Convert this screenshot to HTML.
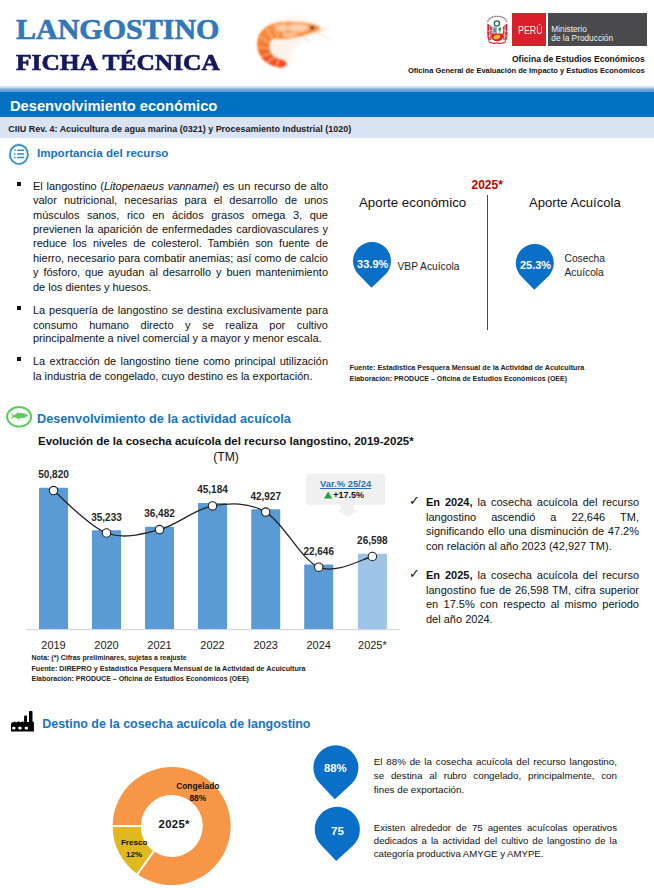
<!DOCTYPE html>
<html><head><meta charset="utf-8">
<style>
html,body{margin:0;padding:0;background:#fff;}
body{width:654px;height:888px;position:relative;overflow:hidden;font-family:"Liberation Sans",sans-serif;color:#000;}
.abs{position:absolute;white-space:nowrap;}
.t1{left:16px;top:12px;font-family:"Liberation Serif",serif;font-weight:bold;font-size:30px;color:#3277ba;-webkit-text-stroke:0.7px #3277ba;transform-origin:0 0;transform:scaleX(1.0);}
.t2{left:16px;top:49px;font-family:"Liberation Serif",serif;font-weight:bold;font-size:24px;color:#15195c;-webkit-text-stroke:0.7px #15195c;transform-origin:0 0;transform:scaleX(1.06);}
.bar0{left:0;top:86px;width:654px;height:6px;background:linear-gradient(#d6e3f4 0%,#c3d7ef 30%,#79a8dc 50%,#5f98d6 100%);}
.bar1{left:0;top:91.6px;width:654px;height:25.6px;background:#0070c0;}
.bar1t{left:10px;top:98px;font-size:14.7px;font-weight:bold;color:#fff;}
.bar2{left:0;top:117.2px;width:654px;height:21.3px;background:#dae3f3;}
.bar2t{left:8.3px;top:123.6px;font-size:8.97px;font-weight:bold;color:#1a1a1a;}
.h{font-weight:bold;color:#1673c4;font-size:12.8px;}
.ln{position:absolute;white-space:nowrap;font-size:11px;line-height:14px;height:14px;color:#111;text-align:justify;text-align-last:justify;}
.ln.l{text-align-last:left;}
.small{font-size:7.3px;font-weight:bold;color:#222;}
.bul{position:absolute;width:4px;height:4px;background:#111;}
.lbl{font-size:10px;font-weight:bold;color:#262626;transform:translateX(-50%);}
.yr{font-size:11px;color:#1a1a1a;transform:translateX(-50%);}
</style></head><body>
<div class="abs t1" style="left:0px;top:0px;left:16px;top:12px">LANGOSTINO</div>
<div class="abs t2" style="left:0px;top:0px;left:16px;top:49px">FICHA TÉCNICA</div>
<svg class="abs" style="left:245px;top:5px" width="100" height="75" viewBox="245 5 100 75"><defs><linearGradient id="sg" x1="0" y1="0" x2="0" y2="1"><stop offset="0" stop-color="#f89a50"/><stop offset="0.5" stop-color="#f57c2e"/><stop offset="1" stop-color="#f0421a"/></linearGradient><filter id="sb" x="-20%" y="-20%" width="140%" height="140%"><feGaussianBlur stdDeviation="0.8"/></filter><filter id="sb2" x="-20%" y="-20%" width="140%" height="140%"><feGaussianBlur stdDeviation="2.5"/></filter><filter id="sb3" x="-30%" y="-30%" width="160%" height="160%"><feGaussianBlur stdDeviation="1.3"/></filter></defs>
<path d="M262 30 C280 10 310 16 325 30 C300 40 285 50 292 66 C270 72 253 55 262 30Z" fill="#fdf2ea" filter="url(#sb2)"/>
<g filter="url(#sb)"><path d="M319.5 26.5 C312 23 300 21.8 286 21.8 C274 21.8 264 26 259.5 34 C256 41 256.5 50 261 57 C265 63 273 67 281 67.5 C285.5 67.5 287.5 64.5 285.5 61.5 C283 59 278 59.5 274.5 57 C270 53.5 268 47 270 42 C272 37.5 277 38.5 283 39 C292 39 300 36.5 306 34.5 C311 33 316 31.5 319.5 30 Z" fill="url(#sg)"/>
<g filter="url(#sb3)" fill="#fde0c6" opacity="0.8"><ellipse cx="298" cy="28" rx="11" ry="4.2"/><ellipse cx="282" cy="28" rx="6" ry="3.5"/><ellipse cx="290" cy="35" rx="8" ry="2"/></g>
<g stroke="#fbcfa6" stroke-width="1.2" fill="none" opacity="0.75"><path d="M284 22 L285 38"/><path d="M275 23.5 L278 37"/><path d="M266.5 28 L272.5 39"/><path d="M260 37 L269 43"/><path d="M258 47.5 L268.5 48.5"/><path d="M260.5 56.5 L270.5 53.5"/><path d="M267 62.5 L274.5 57.5"/><path d="M276 66 L279 59.5"/></g>
<g stroke="#f9b377" stroke-width="0.8" fill="none" opacity="0.8"><path d="M318 29 C322 29.5 326 29.5 329 28.5"/><path d="M314 32 C320 33 326 36 329 41"/><path d="M303 36 C306 39 308 41 310 42"/></g>
<ellipse cx="312.3" cy="27.8" rx="2.1" ry="1.7" fill="#3d1c14"/></g></svg>

<svg class="abs" style="left:484px;top:12px" width="27" height="35" viewBox="484 12 27 35"><defs><filter id="lb" x="-10%" y="-10%" width="120%" height="120%"><feGaussianBlur stdDeviation="0.35"/></filter></defs><g filter="url(#lb)">
<path d="M487.6 21.6 C489.5 17.6 493 16.3 497.2 16.3 C501.5 16.3 505 17.6 507 21.6" fill="none" stroke="#6a6a6a" stroke-width="1.3" stroke-dasharray="1.1 0.5"/>
<path d="M487.3 23.2 L491.8 27 L491.4 39.5 L488.6 41 L487.3 37 Z" fill="#d8232d"/>
<path d="M507.3 23.2 L502.8 27 L503.2 39.5 L506 41 L507.3 37 Z" fill="#d8232d"/>
<path d="M489.6 26 L489.9 39.5 M505 26 L504.7 39.5" stroke="#fff" stroke-width="0.7"/>
<path d="M487.6 36.5 L491.5 34.5 M487.6 31.5 L491.5 30 M507 36.5 L503.1 34.5 M507 31.5 L503.1 30" stroke="#fff" stroke-width="0.6"/>
<circle cx="496.9" cy="23.4" r="2.6" fill="#fff" stroke="#1d6a3a" stroke-width="1.3"/>
<rect x="492.2" y="26.6" width="5" height="7" fill="#8db3d6"/><rect x="497.2" y="26.6" width="5" height="7" fill="#fff"/>
<path d="M498.5 27.5h2.6v3.2h-0.9v2h-0.8v-2h-0.9z" fill="#2e9a45"/><rect x="493.6" y="28.6" width="2.4" height="3.4" fill="#8c7a6a"/>
<path d="M491.4 33.6 H503 V37 C503 39.5 500 41 497.2 41.4 C494.4 41 491.4 39.5 491.4 37 Z" fill="#d8232d"/>
<ellipse cx="496.8" cy="37" rx="3.6" ry="2" fill="#e9b92c" transform="rotate(-18 496.8 37)"/>
<path d="M488.5 40.8 C492 43.2 495 43.3 497.2 42.2 C499.4 43.3 502.4 43.2 506 40.8 L505.4 42.6 C502 44.4 499.5 44.3 497.2 43.5 C494.9 44.3 492.4 44.4 489 42.6 Z" fill="#d8232d"/>
</g></svg>

<div class="abs" style="left:512.4px;top:13px;width:33.6px;height:33.2px;background:#da1f2b;"></div>
<div class="abs" style="left:547.8px;top:13px;width:99.2px;height:33.2px;background:#4a4a4c;"></div>
<div class="abs " style="left:518px;top:24.5px;font-size:10.4px;color:#fff;transform-origin:0 0;transform:scaleX(0.85);">PERÚ</div>
<div class="abs" style="left:551.3px;top:25px;font-size:8.3px;line-height:8.6px;color:#f2f2f2;white-space:pre;">Ministerio
de la Producción</div>
<div class="abs" style="right:9.3px;top:54px;font-size:8.54px;font-weight:bold;color:#111;">Oficina de Estudios Económicos</div>
<div class="abs" style="right:9.3px;top:66px;font-size:7.53px;font-weight:bold;color:#111;">Oficina General de Evaluación de Impacto y Estudios Económicos</div>
<div class="abs bar0"></div><div class="abs bar1"></div><div class="abs bar1t">Desenvolvimiento económico</div><div class="abs bar2"></div>
<div class="abs bar2t">CIIU Rev. 4: Acuicultura de agua marina (0321) y Procesamiento Industrial (1020)</div>
<svg class="abs" style="left:7px;top:142px" width="24" height="25" viewBox="7 142 24 25"><ellipse cx="18.9" cy="154.4" rx="8.9" ry="9.6" fill="#fff" stroke="#2a8cd2" stroke-width="1.7"/><ellipse cx="18.9" cy="154.4" rx="10.1" ry="10.8" fill="none" stroke="#2a8cd2" stroke-opacity="0.22" stroke-width="0.9"/><g stroke="#2a8cd2" stroke-width="1.5"><path d="M17.2 150.3h6.9M17.2 153.9h6.9M17.2 157.5h6.9"/><path d="M14.1 150.3h1.5M14.1 153.9h1.5M14.1 157.5h1.5"/></g></svg>
<div class="abs h" style="left:37px;top:146px;font-size:11.6px;">Importancia del recurso</div>
<div class="bul" style="left:17px;top:182px"></div>
<div class="bul" style="left:17px;top:306px"></div>
<div class="bul" style="left:17px;top:357px"></div>
<div class="ln" style="left:33px;top:179px;width:295px;">El langostino (<i>Litopenaeus vannamei</i>) es un recurso de alto</div>
<div class="ln" style="left:33px;top:193px;width:295px;">valor nutricional, necesarias para el desarrollo de unos</div>
<div class="ln" style="left:33px;top:208px;width:295px;">músculos sanos, rico en ácidos grasos omega 3, que</div>
<div class="ln" style="left:33px;top:222px;width:295px;">previenen la aparición de enfermedades cardiovasculares y</div>
<div class="ln" style="left:33px;top:236px;width:295px;">reduce los niveles de colesterol. También son fuente de</div>
<div class="ln" style="left:33px;top:251px;width:295px;">hierro, necesario para combatir anemias; así como de calcio</div>
<div class="ln" style="left:33px;top:265px;width:295px;">y fósforo, que ayudan al desarrollo y buen mantenimiento</div>
<div class="ln l" style="left:33px;top:280px;width:295px;">de los dientes y huesos.</div>
<div class="ln" style="left:33px;top:303px;width:295px;">La pesquería de langostino se destina exclusivamente para</div>
<div class="ln" style="left:33px;top:318px;width:295px;">consumo humano directo y se realiza por cultivo</div>
<div class="ln l" style="left:33px;top:331px;width:295px;">principalmente a nivel comercial y a mayor y menor escala.</div>
<div class="ln" style="left:33px;top:354px;width:295px;">La extracción de langostino tiene como principal utilización</div>
<div class="ln l" style="left:33px;top:369px;width:295px;">la industria de congelado, cuyo destino es la exportación.</div>
<div class="abs " style="left:471.5px;top:178px;font-size:12px;font-weight:bold;color:#c00000;">2025*</div>
<div class="abs" style="left:486.8px;top:195px;width:1.2px;height:135px;background:#c0141c;"></div>
<div class="abs " style="left:359px;top:195px;font-size:13.3px;color:#111;">Aporte económico</div>
<div class="abs " style="left:529px;top:195px;font-size:13.1px;color:#111;">Aporte Acuícola</div>
<svg class="abs" style="left:352px;top:241px" width="40" height="48" viewBox="352 241 40 48"><path d="M371.50 287.80 L358.60 274.47 A19.00 19.00 0 1 1 385.40 274.47 Z" fill="#0a6fc6"/></svg>
<div class="abs " style="left:372.7px;top:257.5px;font-size:11px;font-weight:bold;color:#fff;transform:translateX(-50%);">33.9%</div>
<div class="abs " style="left:397.5px;top:261px;font-size:10.25px;color:#222;">VBP Acuícola</div>
<svg class="abs" style="left:514px;top:243px" width="40" height="48" viewBox="514 243 40 48"><path d="M534.30 289.80 L521.40 276.47 A19.00 19.00 0 1 1 548.20 276.47 Z" fill="#0a6fc6"/></svg>
<div class="abs " style="left:535.5px;top:259px;font-size:11px;font-weight:bold;color:#fff;transform:translateX(-50%);">25.3%</div>
<div class="abs" style="left:564.5px;top:252px;font-size:10.25px;line-height:14px;color:#222;white-space:pre;">Cosecha
Acuícola</div>
<div class="abs small" style="left:349.6px;top:364px;font-size:7.18px;">Fuente: Estadística Pesquera Mensual de la Actividad de Acuicultura</div>
<div class="abs small" style="left:349.6px;top:375px;font-size:7.0px;">Elaboración: PRODUCE – Oficina de Estudios Económicos (OEE)</div>
<svg class="abs" style="left:4px;top:404px" width="30" height="26" viewBox="4 404 30 26"><ellipse cx="19.1" cy="416.8" rx="12" ry="9.8" fill="#fff" stroke="#5ecb5f" stroke-width="2"/><path d="M14.2 415.4 L10.8 412.4 L12.6 416 L10.8 419.4 L14.2 416.9 C15.4 418.2 17.5 418.3 17.9 418.2 L18 420.2 L19.8 418.2 C23.5 418.4 26.8 417 27.9 415.4 C26.5 413.6 23 412.6 18.5 413.2 L17.3 411.8 L16.9 413.5 C15.6 413.8 14.8 414.6 14.2 415.4 Z" fill="#5ecb5f"/></svg>
<div class="abs h" style="left:37px;top:412px;font-size:12.7px;">Desenvolvimiento de la actividad acuícola</div>
<div class="abs " style="left:38px;top:434.5px;font-size:11.53px;font-weight:bold;color:#111;">Evolución de la cosecha acuícola del recurso langostino, 2019-2025*</div>
<div class="abs " style="left:226px;top:450px;font-size:12.2px;color:#111;transform:translateX(-50%);">(TM)</div>
<svg class="abs" style="left:0;top:460px" width="410" height="180" viewBox="0 460 410 180"><rect x="39.0" y="487.8" width="29" height="141.8" rx="1" fill="#5b9bd5"/><rect x="92.0" y="530.2" width="29" height="99.4" rx="1" fill="#5b9bd5"/><rect x="145.0" y="526.8" width="29" height="102.8" rx="1" fill="#5b9bd5"/><rect x="198.0" y="503.1" width="29" height="126.5" rx="1" fill="#5b9bd5"/><rect x="251.2" y="509.3" width="29" height="120.3" rx="1" fill="#5b9bd5"/><rect x="304.2" y="564.4" width="29" height="65.2" rx="1" fill="#5b9bd5"/><rect x="357.9" y="553.7" width="29" height="75.9" rx="1" fill="#9dc3e6"/><rect x="26.5" y="629" width="373" height="1.2" fill="#d4d8de"/><path d="M53.5 490.6 C62.3 497.7 88.8 526.5 106.5 533.0 C124.2 539.5 141.8 534.1 159.5 529.6 C177.2 525.1 194.8 508.9 212.5 505.9 C230.2 503.0 248.0 501.9 265.7 512.1 C283.4 522.3 300.9 559.8 318.7 567.2 C336.5 574.6 363.4 558.3 372.4 556.5" fill="none" stroke="#222" stroke-width="1.3"/><circle cx="53.5" cy="490.6" r="4.2" fill="#fff" stroke="#222" stroke-width="1.1"/><circle cx="106.5" cy="533.0" r="4.2" fill="#fff" stroke="#222" stroke-width="1.1"/><circle cx="159.5" cy="529.6" r="4.2" fill="#fff" stroke="#222" stroke-width="1.1"/><circle cx="212.5" cy="505.9" r="4.2" fill="#fff" stroke="#222" stroke-width="1.1"/><circle cx="265.7" cy="512.1" r="4.2" fill="#fff" stroke="#222" stroke-width="1.1"/><circle cx="318.7" cy="567.2" r="4.2" fill="#fff" stroke="#222" stroke-width="1.1"/><circle cx="372.4" cy="556.5" r="4.2" fill="#fff" stroke="#222" stroke-width="1.1"/></svg>
<div class="abs lbl" style="left:53.5px;top:468.5px;">50,820</div>
<div class="abs lbl" style="left:106.5px;top:511.5px;">35,233</div>
<div class="abs lbl" style="left:159.5px;top:507.5px;">36,482</div>
<div class="abs lbl" style="left:212.5px;top:483.5px;">45,184</div>
<div class="abs lbl" style="left:265.7px;top:491.0px;">42,927</div>
<div class="abs lbl" style="left:318.7px;top:545.5px;">22,646</div>
<div class="abs lbl" style="left:372.4px;top:534.5px;">26,598</div>
<div class="abs yr" style="left:53.5px;top:639px;">2019</div>
<div class="abs yr" style="left:106.5px;top:639px;">2020</div>
<div class="abs yr" style="left:159.5px;top:639px;">2021</div>
<div class="abs yr" style="left:212.5px;top:639px;">2022</div>
<div class="abs yr" style="left:265.7px;top:639px;">2023</div>
<div class="abs yr" style="left:318.7px;top:639px;">2024</div>
<div class="abs yr" style="left:372.4px;top:639px;">2025*</div>
<svg class="abs" style="left:300px;top:470px" width="92" height="50" viewBox="300 470 92 50"><path d="M310 473.4h71.3a4 4 0 0 1 4 4v23.4a4 4 0 0 1 -4 4h-27.3v5.5h5l-11.3 6.4-11.3-6.4h4v-5.5h-30.4a4 4 0 0 1 -4-4v-23.4a4 4 0 0 1 4-4z" fill="#f0f0f0"/></svg>
<div class="abs " style="left:345.6px;top:478px;font-size:9.4px;font-weight:bold;color:#2a6ebb;text-decoration:underline;transform:translateX(-50%);">Var.% 25/24</div>
<svg class="abs" style="left:323.6px;top:491px" width="9" height="8"><path d="M0 7.5L4.1 0.5L8.2 7.5z" fill="#22a33a"/></svg>
<div class="abs " style="left:333.3px;top:489.5px;font-size:9px;font-weight:bold;color:#111;">+17.5%</div>
<div class="abs small" style="left:31.5px;top:654px;font-size:7.0px;">Nota: (*) Cifras preliminares, sujetas a reajuste</div>
<div class="abs small" style="left:31.5px;top:664.5px;font-size:7.15px;">Fuente: DIREPRO y Estadística Pesquera Mensual de la Actividad de Acuicultura</div>
<div class="abs small" style="left:31.5px;top:675px;font-size:7.0px;">Elaboración: PRODUCE – Oficina de Estudios Económicos (OEE)</div>
<div class="abs " style="left:408.5px;top:493px;font-size:13px;color:#111;">✓</div>
<div class="ln" style="left:426px;top:495px;width:213px;"><b>En 2024,</b> la cosecha acuícola del recurso</div>
<div class="ln" style="left:426px;top:510px;width:213px;">langostino ascendió a 22,646 TM,</div>
<div class="ln" style="left:426px;top:524px;width:213px;">significando ello una disminución de 47.2%</div>
<div class="ln l" style="left:426px;top:539px;width:213px;">con relación al año 2023 (42,927 TM).</div>
<div class="abs " style="left:408.5px;top:566px;font-size:13px;color:#111;">✓</div>
<div class="ln" style="left:426px;top:568px;width:213px;"><b>En 2025,</b> la cosecha acuícola del recurso</div>
<div class="ln" style="left:426px;top:583px;width:213px;">langostino fue de 26,598 TM, cifra superior</div>
<div class="ln" style="left:426px;top:597px;width:213px;">en 17.5% con respecto al mismo periodo</div>
<div class="ln l" style="left:426px;top:612px;width:213px;">del año 2024.</div>
<svg class="abs" style="left:10px;top:710px" width="26" height="23" viewBox="10 710 26 23"><path d="M11 731.6 V724 Q11 722.7 12.6 722.3 L15.5 721.4 V722.6 L19.5 721.3 V722.6 L23.5 721.3 V722.4 H24.1 V716.2 Q24.1 715.5 24.8 715.5 H26.3 Q27 715.5 27 716.2 V722 H29 V711.7 Q29 711 29.7 711 H31.8 Q32.5 711 32.5 711.7 V721.8 H33.9 V731.6 Z" fill="#000"/><g fill="#fff"><rect x="12.3" y="726.8" width="3.1" height="2.8" rx="0.8"/><rect x="18.3" y="726.8" width="3.3" height="2.8" rx="0.8"/><rect x="24.7" y="726.8" width="3.3" height="2.8" rx="0.8"/></g></svg>
<div class="abs h" style="left:42.3px;top:717px;font-size:12.45px;">Destino de la cosecha acuícola de langostino</div>
<svg class="abs" style="left:100px;top:755px" width="140" height="133" viewBox="100 755 140 133"><path d="M112.60 826.00 A59 59 0 1 1 137.42 874.20 L153.80 851.24 A31 31 0 1 0 140.80 826.00 Z" fill="#f79646"/><path d="M137.42 874.20 A59 59 0 0 1 112.60 826.00 L140.80 826.00 A31 31 0 0 0 153.80 851.24 Z" fill="#dfb91f"/><path d="M141.80 826.00 L111.60 826.00" stroke="#fff" stroke-width="2"/><path d="M154.38 850.42 L136.84 875.01" stroke="#fff" stroke-width="2"/></svg>
<div class="abs " style="left:174.2px;top:817.5px;font-size:11.3px;font-weight:bold;letter-spacing:0.35px;color:#111;transform:translateX(-50%);">2025*</div>
<div class="abs" style="left:197.8px;top:781px;font-size:8.4px;line-height:11.5px;font-weight:bold;color:#111;transform:translateX(-50%);text-align:center;white-space:pre;">Congelado
88%</div>
<div class="abs" style="left:134.2px;top:837px;font-size:8.1px;line-height:11.5px;font-weight:bold;color:#111;transform:translateX(-50%);text-align:center;white-space:pre;">Fresco
12%</div>
<svg class="abs" style="left:312px;top:744px" width="47" height="57" viewBox="312 744 47 57"><path d="M334.80 799.30 L320.15 783.87 A22.50 22.50 0 1 1 351.65 783.87 Z" fill="#0a6fc6"/></svg>
<div class="abs " style="left:335.3px;top:761.5px;font-size:11.3px;font-weight:bold;color:#fff;transform:translateX(-50%);">88%</div>
<svg class="abs" style="left:313px;top:805px" width="48" height="57" viewBox="313 805 48 57"><path d="M336.20 861.00 L321.50 845.56 A22.60 22.60 0 1 1 353.10 845.56 Z" fill="#0a6fc6"/></svg>
<div class="abs " style="left:337.5px;top:824px;font-size:11.6px;font-weight:bold;color:#fff;transform:translateX(-50%);">75</div>
<div class="ln" style="left:373.8px;top:755px;width:243.2px;font-size:9.8px;">El 88% de la cosecha acuícola del recurso langostino,</div>
<div class="ln" style="left:373.8px;top:769px;width:243.2px;font-size:9.8px;">se destina al rubro congelado, principalmente, con</div>
<div class="ln l" style="left:373.8px;top:783px;width:243.2px;font-size:9.8px;">fines de exportación.</div>
<div class="ln" style="left:373.8px;top:821px;width:243.2px;font-size:9.6px;">Existen alrededor de 75 agentes acuícolas operativos</div>
<div class="ln" style="left:373.8px;top:834px;width:243.2px;font-size:9.6px;">dedicados a la actividad del cultivo de langostino de la</div>
<div class="ln l" style="left:373.8px;top:847px;width:243.2px;font-size:9.6px;">categoría productiva AMYGE y AMYPE.</div>
</body></html>
